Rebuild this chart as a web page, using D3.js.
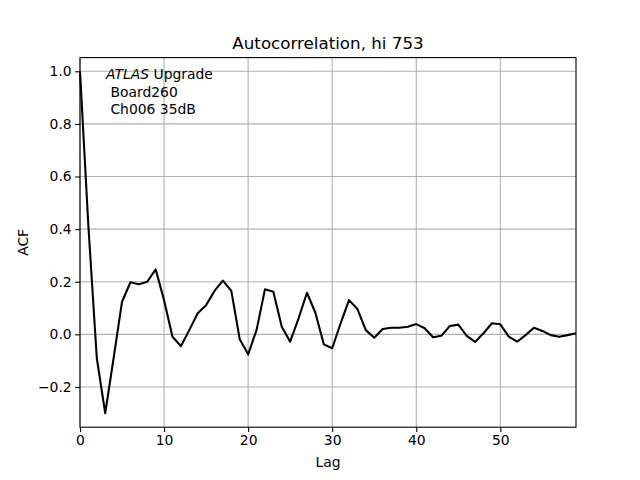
<!DOCTYPE html>
<html><head><meta charset="utf-8">
<script src="https://cdn.jsdelivr.net/npm/d3@7"></script>
<style>body{margin:0;background:#fff}svg{display:block}text{font-family:"DejaVu Sans",sans-serif}</style>
</head><body>
<svg id="c" width="640" height="480"></svg>
<script>
const lags = d3.range(0, 60);
const acf = [1.0, 0.41, -0.091, -0.30, -0.09, 0.124, 0.198, 0.190, 0.200, 0.247,
  0.130, -0.009, -0.045, 0.016, 0.080, 0.111, 0.165, 0.204, 0.165, -0.019,
  -0.076, 0.016, 0.171, 0.162, 0.029, -0.028, 0.061, 0.158, 0.082, -0.038,
  -0.053, 0.042, 0.130, 0.096, 0.016, -0.013, 0.020, 0.025, 0.025, 0.029,
  0.039, 0.023, -0.011, -0.005, 0.032, 0.037, -0.006, -0.029, 0.004, 0.042,
  0.038, -0.009, -0.028, -0.003, 0.025, 0.013, -0.003, -0.009, -0.003, 0.004];
const xTicks = [0, 10, 20, 30, 40, 50];
const yTicks = [-0.2, 0.0, 0.2, 0.4, 0.6, 0.8, 1.0];
const title = "Autocorrelation, hi 753";
const xLabel = "Lag", yLabel = "ACF";

const L = 80, R = 576, T = 57.6, B = 427.2;
const svg = d3.select("#c");
const x = d3.scaleLinear().domain([0, 59]).range([L, R]);
const y = d3.scaleLinear().domain([-0.353, 1.052]).range([B, T]);

// grid
const g = svg.append("g");
g.selectAll(".gx").data(xTicks).join("line")
  .attr("x1", d => x(d)).attr("x2", d => x(d)).attr("y1", T).attr("y2", B)
  .attr("stroke", "#b0b0b0").attr("stroke-width", 1.1);
g.selectAll(".gy").data(yTicks).join("line")
  .attr("y1", d => y(d)).attr("y2", d => y(d)).attr("x1", L).attr("x2", R)
  .attr("stroke", "#b0b0b0").attr("stroke-width", 1.1);

// line
svg.append("path").datum(lags)
  .attr("d", d3.line().x(d => x(d)).y(d => y(acf[d])))
  .attr("fill", "none").attr("stroke", "#000").attr("stroke-width", 2.08)
  .attr("stroke-linejoin", "round");

// axes
const xa = svg.append("g").attr("transform", `translate(0,${B})`)
  .call(d3.axisBottom(x).tickValues(xTicks).tickFormat(d3.format("d")).tickSize(4.86).tickPadding(3.5));
const ya = svg.append("g").attr("transform", `translate(${L},0)`)
  .call(d3.axisLeft(y).tickValues(yTicks).tickFormat(d => d3.format(".1f")(d).replace("-", "\u2212")).tickSize(4.86).tickPadding(3.5));
[xa, ya].forEach(a => {
  a.select(".domain").remove();
  a.selectAll("text").attr("font-size", 13.9).attr("fill", "#000").attr("font-family", "DejaVu Sans");
  a.selectAll("line").attr("stroke", "#000").attr("stroke-width", 1.1);
});

// frame
svg.append("rect").attr("x", L).attr("y", T).attr("width", R - L).attr("height", B - T)
  .attr("fill", "none").attr("stroke", "#000").attr("stroke-width", 1.1);

// text
svg.append("text").attr("x", (L + R) / 2).attr("y", 49).attr("text-anchor", "middle")
  .attr("font-size", 16.7).text(title);
svg.append("text").attr("x", (L + R) / 2).attr("y", 467).attr("text-anchor", "middle")
  .attr("font-size", 13.9).text(xLabel);
svg.append("text").attr("transform", `translate(28,${(T + B) / 2}) rotate(-90)`).attr("text-anchor", "middle")
  .attr("font-size", 13.9).text(yLabel);

const ann = svg.append("g").attr("font-size", 13.9);
const t1 = ann.append("text").attr("x", 106).attr("y", 79);
t1.append("tspan").attr("font-style", "italic").text("ATLAS");
t1.append("tspan").text(" Upgrade");
ann.append("text").attr("x", 106).attr("y", 96.5).attr("xml:space", "preserve").style("white-space", "pre").text(" Board260");
ann.append("text").attr("x", 106).attr("y", 113.5).attr("xml:space", "preserve").style("white-space", "pre").text(" Ch006 35dB");
</script>
</body></html>
